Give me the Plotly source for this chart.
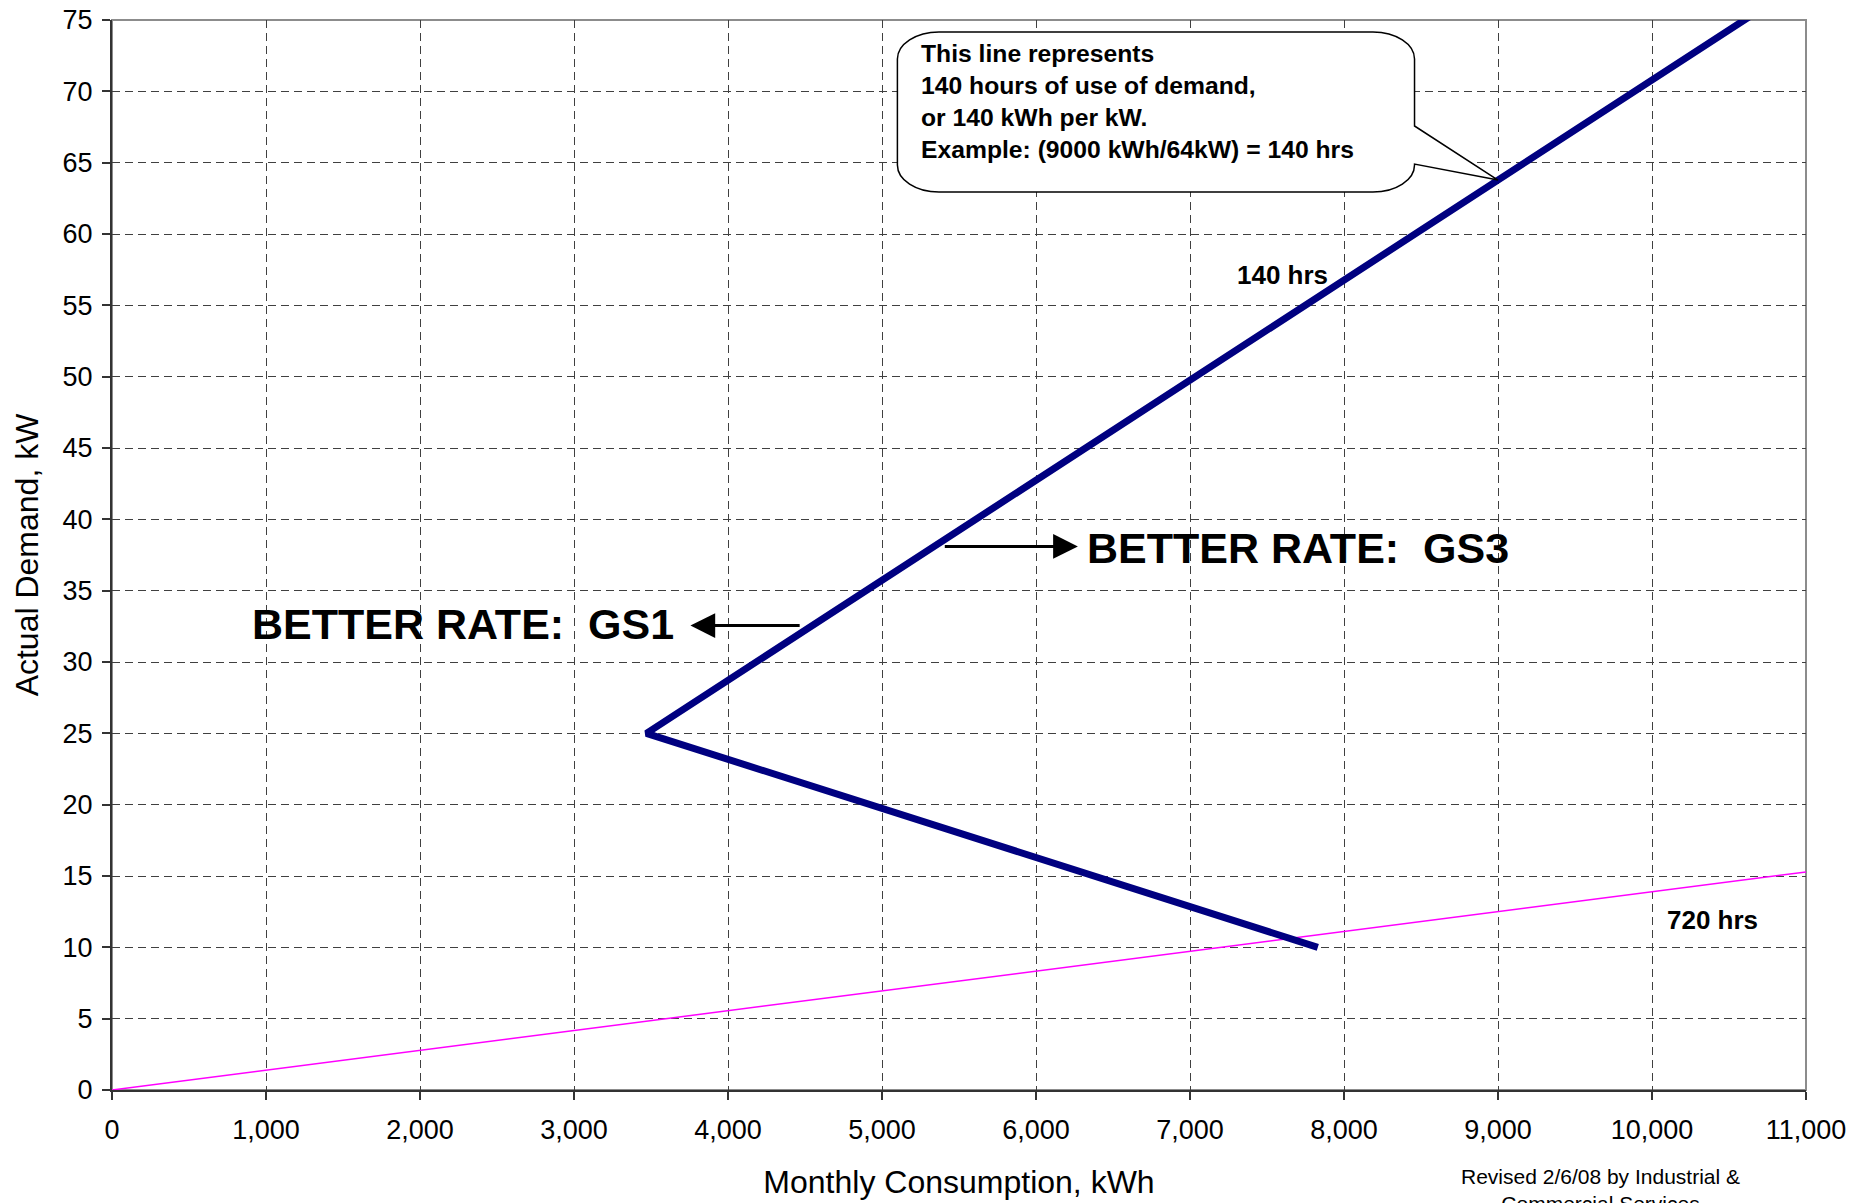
import numpy as np
import plotly.graph_objects as go

# ---- data ----
# 140-hour-use boundary line between rate GS1 and GS3 (kWh, kW)
boundary_kwh = [7830, 3470, 10700]
boundary_kw = [10, 25, 75.7]

# 720-hour line (full month of use)
full_use_kwh = [0, 11000]
full_use_kw = [0, 15.28]

x_ticks = list(range(0, 11001, 1000))
y_ticks = list(range(0, 76, 5))

callout_lines = [
    "This line represents",
    "140 hours of use of demand,",
    "or 140 kWh per kW.",
    "Example: (9000 kWh/64kW) = 140 hrs",
]
example_kwh = 9000

FONT = "Liberation Sans, Arial, sans-serif"

fig = go.Figure()

fig.add_trace(go.Scatter(
    x=full_use_kwh, y=full_use_kw, mode="lines",
    line=dict(color="#FF00FF", width=1.5), hoverinfo="skip", showlegend=False,
))
fig.add_trace(go.Scatter(
    x=boundary_kwh, y=boundary_kw, mode="lines",
    line=dict(color="#000080", width=7), hoverinfo="skip", showlegend=False,
))

# ---- callout bubble (path in data units) ----
tip_x = example_kwh
tip_y = float(np.interp(tip_x, boundary_kwh[1:], boundary_kw[1:]))
x0, x1 = 5100, 8458
y0, y1 = 62.94, 74.16
rx, ry = 270, 1.9
pa, pb = 67.57, 64.9
k = 0.5523
path = (
    f"M {x0+rx},{y1} L {x1-rx},{y1} "
    f"C {x1-rx+k*rx},{y1} {x1},{y1-ry+k*ry} {x1},{y1-ry} "
    f"L {x1},{pa} L {tip_x},{tip_y} L {x1},{pb} L {x1},{y0+ry} "
    f"C {x1},{y0+ry-k*ry} {x1-rx+k*rx},{y0} {x1-rx},{y0} "
    f"L {x0+rx},{y0} "
    f"C {x0+rx-k*rx},{y0} {x0},{y0+ry-k*ry} {x0},{y0+ry} "
    f"L {x0},{y1-ry} "
    f"C {x0},{y1-ry+k*ry} {x0+rx-k*rx},{y1} {x0+rx},{y1} Z"
)

shapes = [
    dict(type="path", xref="x", yref="y", path=path, layer="above",
         fillcolor="white", line=dict(color="black", width=1.5)),
    dict(type="rect", xref="paper", yref="paper", x0=0, x1=1, y0=0, y1=1,
         layer="below", line=dict(color="#8c8c8c", width=2)),
]

annotations = [
    dict(x=5240, y=69.3, xref="x", yref="y", text="<br>".join(callout_lines),
         showarrow=False, xanchor="left", yanchor="middle", align="left",
         font=dict(family=FONT, size=24.7, color="black", weight="bold")),
    dict(x=7600, y=57.1, xref="x", yref="y", text="<b>140 hrs</b>", showarrow=False,
         font=dict(family=FONT, size=26, color="black")),
    dict(x=10393, y=11.95, xref="x", yref="y", text="<b>720 hrs</b>", showarrow=False,
         font=dict(family=FONT, size=26, color="black")),
    dict(x=2276, y=32.65, xref="x", yref="y", text="<b>BETTER RATE:  GS1</b>", showarrow=False,
         font=dict(family=FONT, size=43, color="black")),
    dict(x=7701, y=38.0, xref="x", yref="y", text="<b>BETTER RATE:  GS3</b>", showarrow=False,
         font=dict(family=FONT, size=43, color="black")),
    # arrows
    dict(x=3756, y=32.55, ax=4475, ay=32.55, xref="x", yref="y", axref="x", ayref="y",
         text="", showarrow=True, arrowhead=2, arrowsize=1.65, arrowwidth=3, arrowcolor="black"),
    dict(x=6272, y=38.1, ax=5398, ay=38.1, xref="x", yref="y", axref="x", ayref="y",
         text="", showarrow=True, arrowhead=2, arrowsize=1.65, arrowwidth=3, arrowcolor="black"),
    dict(x=0.8787, y=-0.068, xref="paper", yref="paper",
         text="Revised 2/6/08 by Industrial &<br>Commercial Services",
         showarrow=False, xanchor="center", yanchor="top", align="center",
         font=dict(family=FONT, size=21, color="black")),
]

axis_common = dict(
    showgrid=True, gridcolor="#404040", gridwidth=1, griddash="8px,5px",
    zeroline=False, showline=True, linecolor="#333333", linewidth=2,
    ticks="outside", ticklen=8, tickwidth=1.5, tickcolor="#333333",
    tickfont=dict(family=FONT, size=27, color="black"), automargin=False,
)

fig.update_layout(
    width=1872, height=1203,
    margin=dict(l=112, r=66, t=20, b=113, autoexpand=False),
    paper_bgcolor="white", plot_bgcolor="white",
    font=dict(family=FONT, color="black"),
    xaxis=dict(range=[0, 11000], tickvals=x_ticks, tickformat=",", ticklabelstandoff=7,
               title=dict(text="Monthly Consumption, kWh", font=dict(family=FONT, size=32), standoff=26),
               **axis_common),
    yaxis=dict(range=[0, 75], tickvals=y_ticks, ticklabelstandoff=4,
               title=dict(text="Actual Demand, kW", font=dict(family=FONT, size=32), standoff=14),
               **axis_common),
    shapes=shapes,
    annotations=annotations,
    hovermode=False,
)

fig.write_html(
    "out.html",
    config={"displayModeBar": False},
    post_script="document.body.style.margin='0';document.body.style.overflow='hidden';",
)
